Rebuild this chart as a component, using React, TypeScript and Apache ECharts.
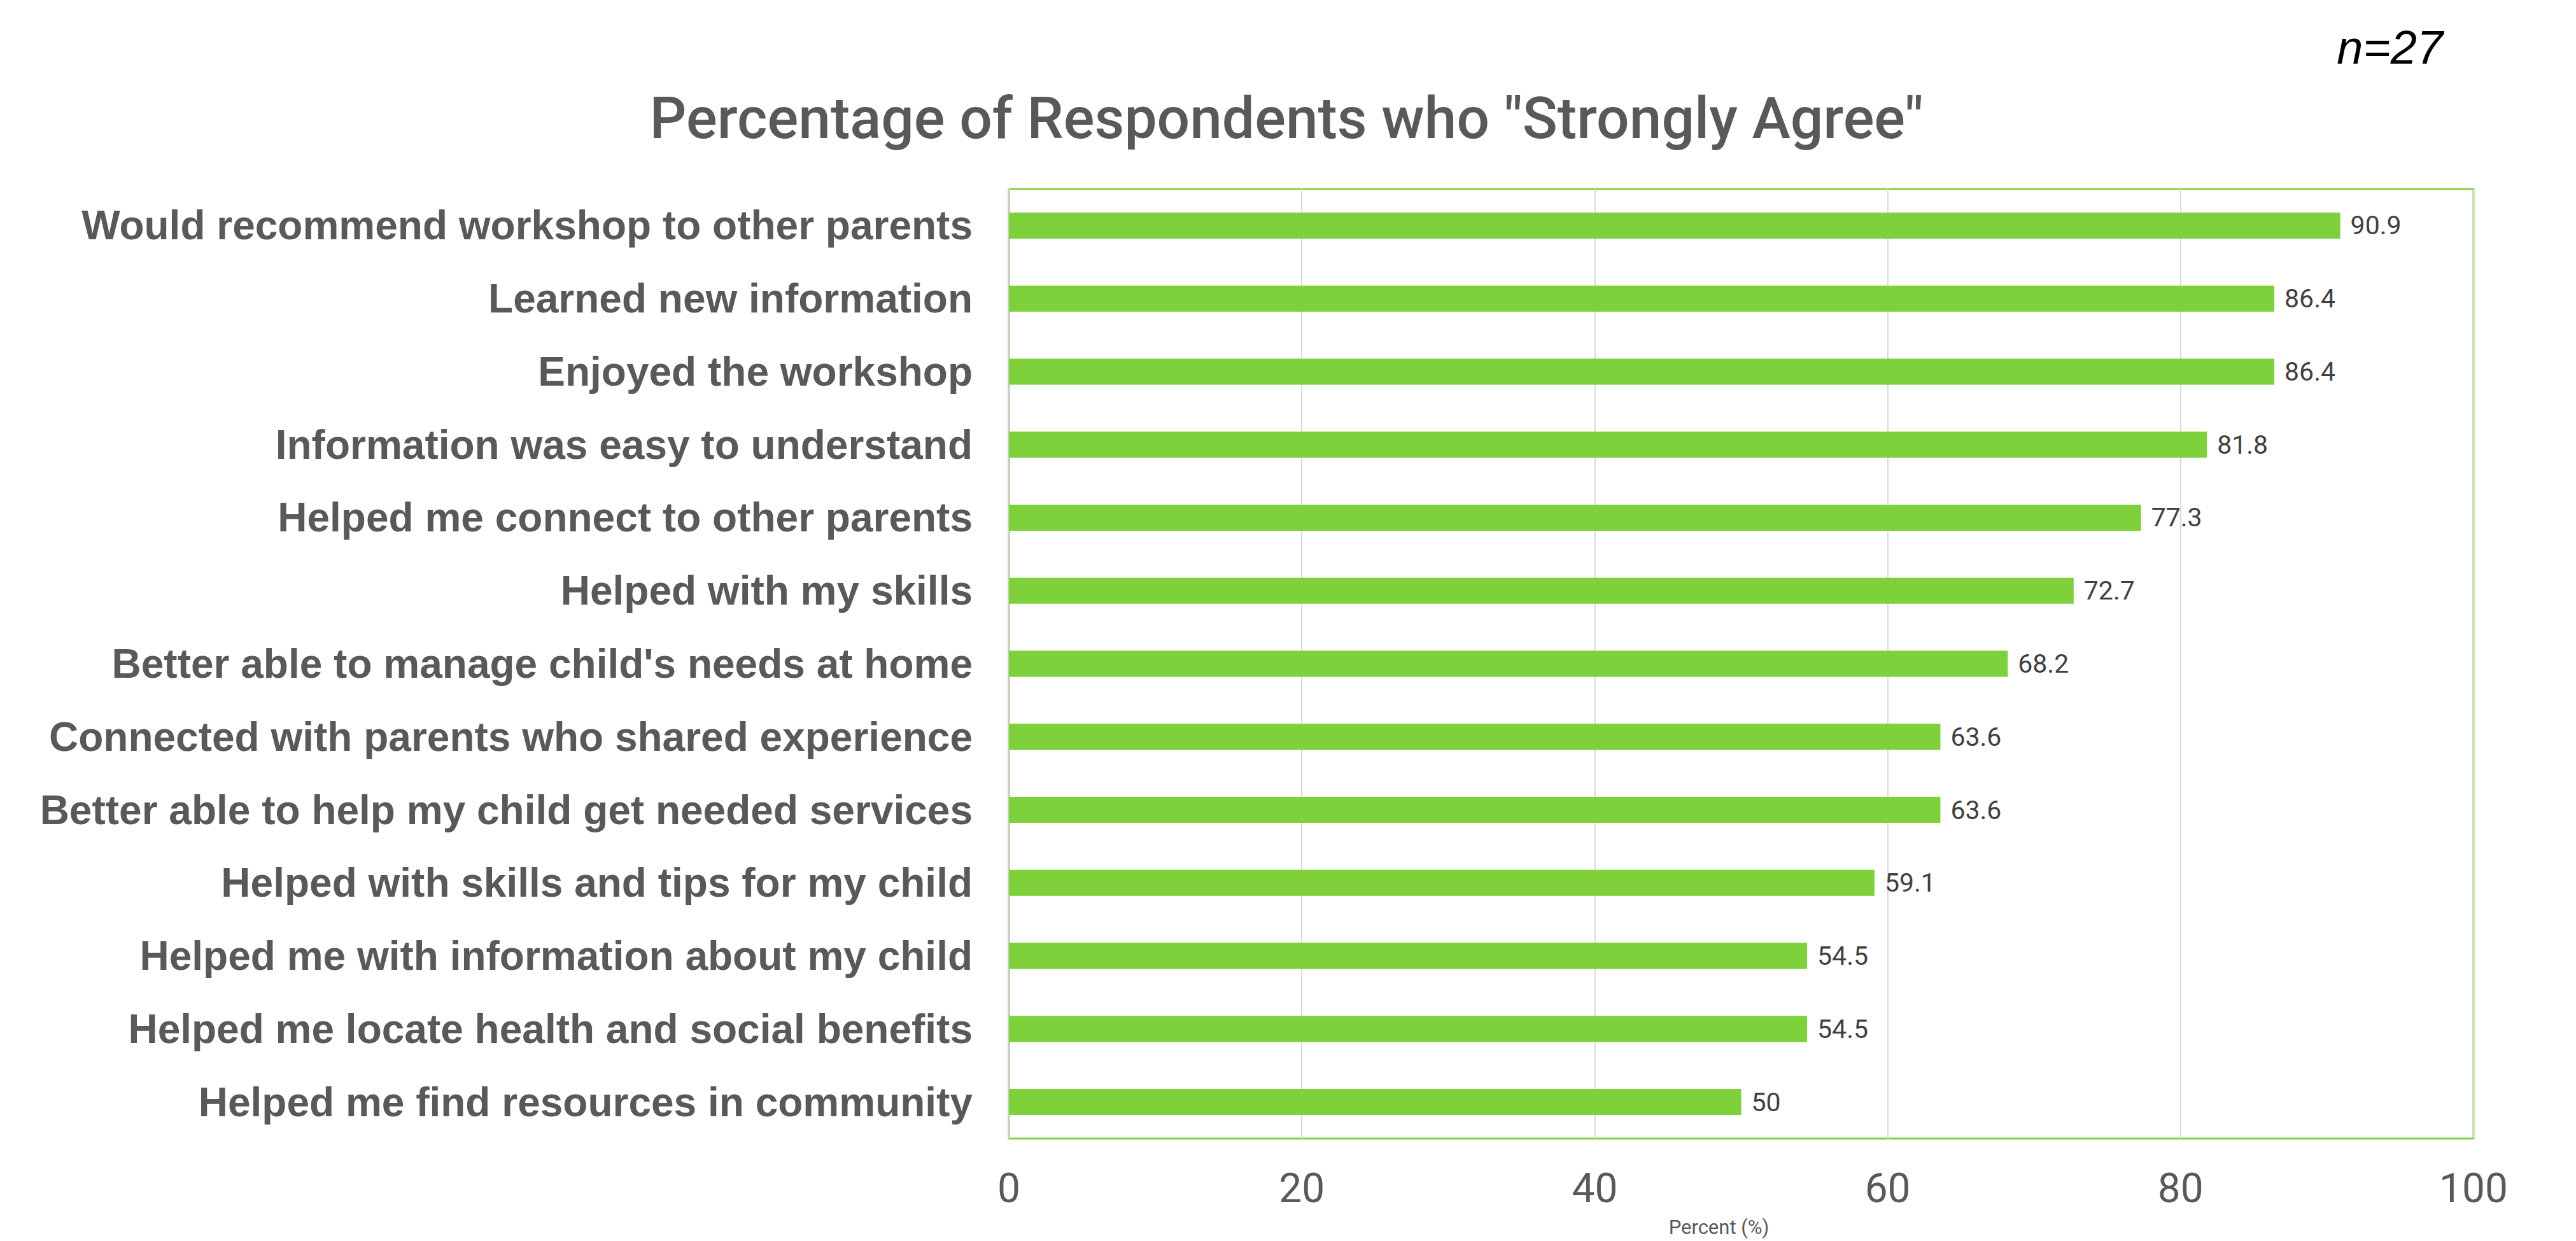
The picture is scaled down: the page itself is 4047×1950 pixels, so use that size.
import React, { useEffect, useRef } from "react";
import * as echarts from "echarts";

const categories = [
  "Would recommend workshop to other parents",
  "Learned new information",
  "Enjoyed the workshop",
  "Information was easy to understand",
  "Helped me connect to other parents",
  "Helped with my skills",
  "Better able to manage child's needs at home",
  "Connected with parents who shared experience",
  "Better able to help my child get needed services",
  "Helped with skills and tips for my child",
  "Helped me with information about my child",
  "Helped me locate health and social benefits",
  "Helped me find resources in community",
];
const values = [90.9, 86.4, 86.4, 81.8, 77.3, 72.7, 68.2, 63.6, 63.6, 59.1, 54.5, 54.5, 50];
const xTicks = [0, 20, 40, 60, 80, 100];
const titleText = 'Percentage of Respondents who "Strongly Agree"';
const sampleText = "n=27";
const axisName = "Percent (%)";

export default function App() {
  const ref = useRef<HTMLDivElement>(null);
  useEffect(() => {
    if (!ref.current) return;
    const chart = echarts.init(ref.current, null, { renderer: "svg" });
    chart.setOption({
      animation: false,
      backgroundColor: "#ffffff",
      graphic: [
        {
          type: "text",
          x: 2021,
          y: 186,
          style: {
            text: titleText,
            fill: "#595959",
            font: "500 91px Roboto",
            align: "center",
            verticalAlign: "middle",
          },
        },
        {
          type: "text",
          x: 3838,
          y: 74,
          style: {
            text: sampleText,
            fill: "#000000",
            font: "italic 74px 'Liberation Sans'",
            align: "right",
            verticalAlign: "middle",
          },
        },
      ],
      grid: {
        left: 1585,
        right: 4047 - 3886,
        top: 297,
        bottom: 1950 - 1789,
        show: true,
        borderColor: "#84d145",
        borderWidth: 3,
        backgroundColor: "transparent",
      },
      xAxis: {
        type: "value",
        min: 0,
        max: 100,
        interval: 20,
        name: axisName,
        nameLocation: "middle",
        nameGap: 124,
        nameTextStyle: {
          fontFamily: "Roboto",
          fontSize: 31,
          color: "#595959",
          padding: [0, 70, 0, 0],
        },
        axisLine: { show: false },
        axisTick: { show: false },
        splitLine: { show: true, lineStyle: { color: "#d9d9d9", width: 2 } },
        axisLabel: {
          fontFamily: "Roboto",
          fontSize: 64,
          color: "#595959",
          margin: 46,
          formatter: (v: number) => (xTicks.includes(v) ? String(v) : ""),
        },
      },
      yAxis: {
        type: "category",
        data: categories,
        inverse: true,
        axisLine: { show: true, lineStyle: { color: "#c9d1c1", width: 3 } },
        axisTick: { show: false },
        axisLabel: {
          fontFamily: "'Liberation Sans', Arial, sans-serif",
          fontWeight: "bold",
          fontSize: 64,
          color: "#595959",
          margin: 57,
        },
      },
      series: [
        {
          type: "bar",
          data: values,
          barWidth: 41,
          itemStyle: { color: "#7fd13b" },
          label: {
            show: true,
            position: "right",
            distance: 16,
            fontFamily: "Roboto",
            fontSize: 41,
            color: "#404040",
          },
        },
      ],
    });
    return () => chart.dispose();
  }, []);
  return (
    <div
      ref={ref}
      style={{ position: "fixed", left: 0, top: 0, width: "100vw", height: "100vh" }}
    />
  );
}
